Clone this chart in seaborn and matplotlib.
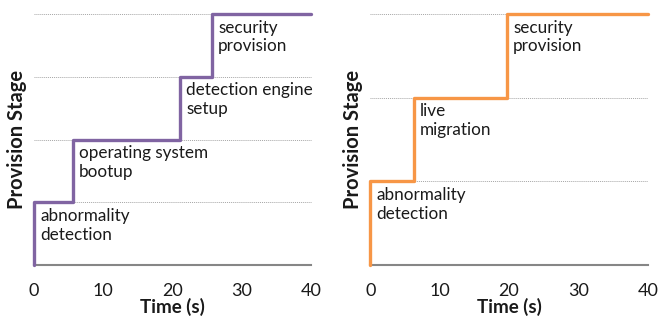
import matplotlib
matplotlib.use("Agg")
import matplotlib.pyplot as plt
import seaborn as sns
import pandas as pd

# ---- data ----
left_times = [0, 5.6, 21.1, 25.7]
left_stages = ["abnormality\ndetection", "operating system\nbootup",
               "detection engine\nsetup", "security\nprovision"]
right_times = [0, 6.3, 19.7]
right_stages = ["abnormality\ndetection", "live\nmigration", "security\nprovision"]
x_end = 40
x_ticks = [0, 10, 20, 30, 40]

sns.set_theme(style="white")
plt.rcParams['font.family'] = ['Lato', 'DejaVu Sans']

fig = plt.figure(figsize=(6.6, 3.2), dpi=100)
ax1 = fig.add_axes([34/660, 55/320, 277/660, 251/320])
ax2 = fig.add_axes([370.3/660, 55/320, 277.4/660, 251/320])


def draw(ax, times, stages, color):
    n = len(stages)
    xs = [times[0]] + list(times) + [x_end]
    ys = [0] + list(range(1, n + 1)) + [n]
    df = pd.DataFrame({"t": xs, "s": ys})
    for lvl in range(1, n + 1):
        ax.plot([0, x_end], [lvl, lvl], color="#a6a6a6", lw=0.7,
                ls=(0, (1, 1)), zorder=1, clip_on=False)
    sns.lineplot(data=df, x="t", y="s", ax=ax, color=color, lw=2.4,
                 drawstyle="steps-post", sort=False, estimator=None,
                 zorder=3, clip_on=False)
    for t, lvl, name in zip(times, range(1, n + 1), stages):
        ax.annotate(name, xy=(t, lvl), xytext=(4.5, -4),
                    textcoords="offset points", ha="left", va="top",
                    fontsize=12.3, color="#1a1a1a", linespacing=1.22)
    ax.set_xlim(0, x_end)
    ax.set_ylim(0, n)
    ax.set_xticks(x_ticks)
    ax.set_yticks([])
    for side in ["left", "right", "top"]:
        ax.spines[side].set_visible(False)
    ax.spines["bottom"].set_color("#868686")
    ax.spines["bottom"].set_linewidth(1.5)
    ax.tick_params(axis="x", direction="out", length=4, width=1,
                   color="#868686", labelsize=13, pad=9, labelcolor="#1a1a1a")
    ax.set_xlabel("Time (s)", fontsize=13.5, fontweight="bold", labelpad=-1,
                  color="#1a1a1a")
    ax.set_ylabel("Provision Stage", fontsize=14.5, fontweight="bold",
                  labelpad=5, color="#1a1a1a")
    ax.set_facecolor("white")


draw(ax1, left_times, left_stages, "#8064a2")
draw(ax2, right_times, right_stages, "#f79646")

fig.savefig("out.png", dpi=100, facecolor="white")
